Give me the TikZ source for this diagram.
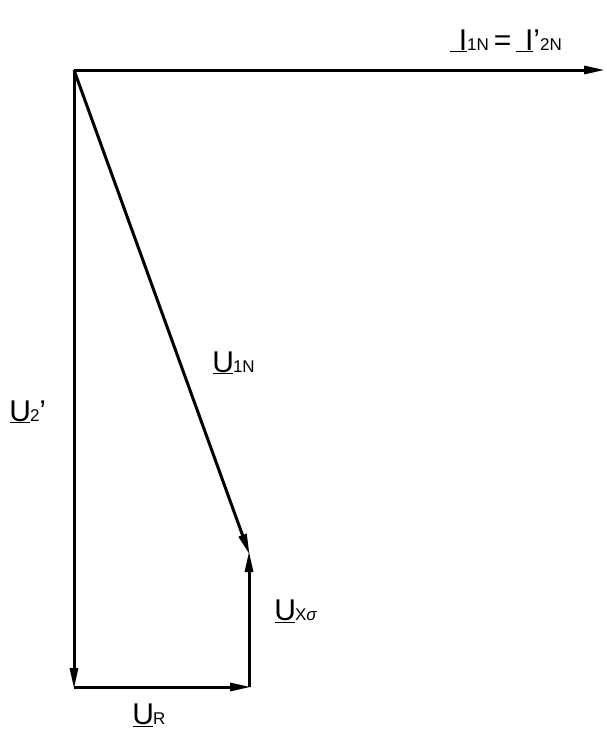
\documentclass[tikz,border=0pt]{standalone}
\usepackage{fontspec}
\setmainfont{Liberation Sans}
\usetikzlibrary{positioning,arrows.meta}

\newcommand{\bigf}{\fontsize{30}{32}\selectfont}
\newcommand{\smlf}{\fontsize{17}{19}\selectfont}
\newcommand{\phv}[2]{{\bigf\underline{\makebox[0.66em]{#1}}}{\smlf #2}}
\newcommand{\phvi}[1]{{\bigf\underline{\makebox[17pt][r]{I}}}{\smlf #1}}

\begin{document}
\begin{tikzpicture}[x=1pt,y=-1pt,
    phasor/.style={-{Triangle[length=21pt,width=8pt]},line width=3pt,shorten >=-2pt},
    lbl/.style={inner sep=0pt,anchor=base west}]
    \useasboundingbox (0,0) rectangle (606,736);

    \coordinate (O) at (74,70);
    \coordinate (I) at (603,70);
    \coordinate (Bl) at (74,687);
    \coordinate (Br) at (249,687);
    \coordinate (T) at (249,553);

    \path[phasor]
    (O) edge (I)
        edge (Bl)
        edge (T)
    (Bl) edge (Br)
    (Br) edge (T);

    \node[lbl] (i1n) at (450,50) {\phvi{1N}{\bigf\,=\,}\phvi{{\bigf’}2N}};
    \node[lbl] (u1n) at (213,372) {\phv{U}{1N}};
    \node[lbl] (u2) at (10,421) {\phv{U}{2{\bigf’}}};
    \node[lbl] (ux) at (275,620) {\phv{U}{X\textit{σ}}};
    \node[lbl] (ur) at (133,724) {\phv{U}{R}};
\end{tikzpicture}
\end{document}
